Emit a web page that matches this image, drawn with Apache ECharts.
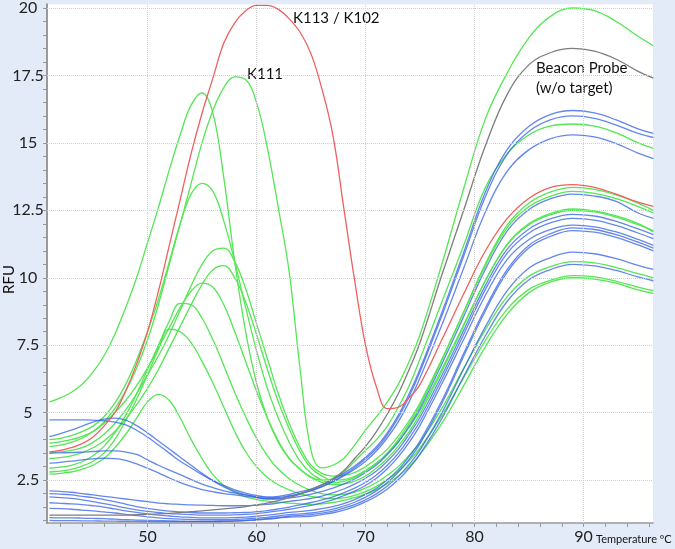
<!DOCTYPE html>
<html>
<head>
<meta charset="utf-8">
<title>Melt curves</title>
<style>
html,body{margin:0;padding:0;background:#e3ebf9;}
#chart{width:675px;height:549px;}
</style>
</head>
<body>
<div id="chart"></div>
<script src="https://cdn.jsdelivr.net/npm/echarts@6/dist/echarts.min.js"></script>
<script>
// temperature points (ºC): every degree up to 75, then every 2 degrees
var temps = [41,42,43,44,45,46,47,48,49,50,51,52,53,54,55,56,57,58,59,60,61,62,63,64,65,66,67,68,69,70,71,72,73,74,75,
             77,79,81,83,85,87,89,91,93,95,96.4];

// red: K113 / K102
var redK113 = [3.55,3.6,3.7,3.85,4.1,4.5,5.0,5.8,6.8,8.0,9.5,11.2,12.9,14.6,16.1,17.4,18.7,19.45,19.9,20.1,20.1,19.95,19.6,19.1,18.3,17.0,15.3,12.6,9.9,7.5,5.95,5.15,5.2,5.55,6.05,
               7.7,9.4,11.0,12.2,12.95,13.35,13.45,13.35,13.1,12.8,12.65];
// gray: beacon probe without target
var grayProbe = [1.2,1.2,1.2,1.2,1.2,1.2,1.2,1.2,1.22,1.23,1.25,1.27,1.3,1.33,1.36,1.4,1.43,1.47,1.52,1.58,1.65,1.74,1.85,1.98,2.15,2.33,2.55,2.85,3.3,3.75,4.3,4.95,5.7,6.6,7.6,
                 10.1,12.5,14.9,16.8,17.9,18.35,18.5,18.4,18.1,17.65,17.4];

// green curves
var gK111 = [3.74,3.8,3.9,4.05,4.3,4.65,5.15,5.8,6.65,7.7,9.0,10.5,12.0,13.5,15.0,16.2,17.05,17.45,17.35,16.5,14.8,12.6,10.2,6.6,3.6,2.95,3.05,3.3,3.8,4.35,4.85,5.4,6.05,6.9,7.9,
             10.5,13.3,15.9,17.6,18.9,19.7,20.0,19.9,19.5,18.95,18.6];
var gA = [5.4,5.55,5.75,6.05,6.5,7.1,7.9,8.9,10.0,11.3,12.6,14.0,15.3,16.4,16.85,16.1,13.7,10.6,8.0,6.1,4.8,3.9,3.3,2.9,2.6,2.5,2.55,2.8,3.2,3.6,4.0,4.5,5.2,6.0,7.0,
          9.1,11.2,13.35,14.6,15.3,15.63,15.7,15.62,15.37,15.0,14.8];
var gB = [4.0,4.05,4.15,4.3,4.5,4.85,5.35,6.05,6.95,8.0,9.2,10.6,12.0,13.1,13.5,13.2,12.1,10.6,8.9,7.3,5.9,4.8,3.9,3.2,2.75,2.5,2.4,2.45,2.6,2.85,3.13,3.5,4.0,4.6,5.27,
          6.94,8.73,10.52,11.96,12.77,13.18,13.35,13.28,13.07,12.77,12.5];
var gC = [3.5,3.55,3.6,3.7,3.9,4.2,4.6,5.1,5.7,6.4,7.1,7.9,8.8,9.7,10.5,11.0,11.1,10.6,9.6,8.3,7.0,5.7,4.6,3.7,3.05,2.75,2.65,2.68,2.78,3.0,3.29,3.65,4.13,4.7,5.36,
          6.98,8.72,10.46,11.86,12.64,13.03,13.2,13.13,12.93,12.64,12.4];
var gD = [3.3,3.33,3.4,3.52,3.7,3.95,4.3,4.75,5.3,5.9,6.6,7.4,8.2,9.0,9.75,10.3,10.45,10.0,9.1,7.9,6.6,5.4,4.4,3.55,2.95,2.65,2.5,2.52,2.64,2.85,3.12,3.48,3.91,4.45,5.08,
          6.62,8.26,9.9,11.23,11.97,12.34,12.5,12.44,12.25,11.97,11.75];
var gE = [3.87,3.92,4.0,4.12,4.3,4.6,5.0,5.45,6.0,6.65,7.4,8.15,8.9,9.5,9.8,9.65,9.0,8.0,6.9,5.8,4.8,3.95,3.3,2.9,2.6,2.42,2.33,2.35,2.46,2.65,2.95,3.3,3.76,4.3,4.96,
          6.53,8.21,9.89,11.25,12.01,12.39,12.55,12.48,12.29,12.01,11.7];
var gF = [2.94,2.98,3.05,3.18,3.4,3.75,4.25,4.9,5.7,6.6,7.5,8.4,9.05,9.0,8.5,7.7,6.75,5.75,4.85,4.05,3.4,2.9,2.55,2.3,2.12,2.0,1.95,1.97,2.05,2.2,2.41,2.68,3.0,3.42,3.9,
          5.16,6.64,8.08,9.3,10.06,10.42,10.6,10.55,10.38,10.15,10.0];
var gG = [2.8,2.83,2.9,3.02,3.2,3.5,4.0,4.7,5.5,6.4,7.35,8.1,8.0,7.6,6.9,6.1,5.2,4.3,3.55,3.0,2.6,2.33,2.14,2.0,1.9,1.84,1.81,1.84,1.93,2.07,2.27,2.52,2.83,3.22,3.69,
          4.89,6.3,7.68,8.84,9.57,9.91,10.08,10.03,9.87,9.65,9.52];
var gH = [2.72,2.75,2.8,2.9,3.05,3.3,3.7,4.2,4.8,5.4,5.68,5.45,4.8,4.0,3.3,2.7,2.3,2.05,1.88,1.78,1.72,1.68,1.65,1.62,1.6,1.62,1.67,1.75,1.85,1.98,2.15,2.37,2.65,3.0,3.45,
          4.6,6.0,7.45,8.65,9.45,9.85,10.0,9.95,9.8,9.55,9.42];

// blue curves
var bU1 = [4.73,4.73,4.73,4.73,4.72,4.7,4.65,4.55,4.35,4.1,3.8,3.5,3.2,2.95,2.7,2.48,2.3,2.14,2.02,1.93,1.88,1.9,1.97,2.07,2.17,2.32,2.52,2.75,3.02,3.35,3.74,4.25,4.9,5.7,6.62,
           8.71,10.94,13.18,14.76,15.62,16.06,16.2,16.11,15.85,15.52,15.35];
var bU2 = [4.11,4.22,4.35,4.5,4.65,4.76,4.8,4.72,4.52,4.25,3.95,3.65,3.35,3.05,2.75,2.48,2.25,2.08,1.95,1.86,1.81,1.82,1.9,2.0,2.12,2.27,2.46,2.69,2.96,3.29,3.67,4.18,4.81,5.6,6.52,
           8.59,10.8,13.01,14.58,15.43,15.86,16.0,15.91,15.66,15.35,15.2];
var bU3 = [3.5,3.51,3.52,3.54,3.56,3.58,3.58,3.54,3.45,3.25,3.05,2.87,2.7,2.52,2.35,2.22,2.1,2.02,1.95,1.89,1.85,1.86,1.92,2.0,2.1,2.25,2.43,2.65,2.9,3.2,3.58,4.07,4.66,5.4,6.29,
           8.25,10.35,12.45,13.95,14.75,15.16,15.3,15.22,14.97,14.62,14.42];
var bU4 = [3.13,3.16,3.2,3.25,3.29,3.31,3.3,3.23,3.1,2.94,2.77,2.58,2.41,2.27,2.15,2.07,2.0,1.95,1.9,1.85,1.8,1.8,1.84,1.9,1.98,2.08,2.2,2.36,2.54,2.78,3.06,3.45,3.91,4.5,5.16,
           6.8,8.56,10.32,11.74,12.53,12.93,13.1,13.03,12.83,12.4,12.2];
var bL1 = [2.1,2.08,2.05,2.0,1.95,1.9,1.85,1.8,1.75,1.7,1.65,1.62,1.6,1.58,1.57,1.56,1.55,1.55,1.55,1.57,1.6,1.65,1.71,1.76,1.82,1.91,2.03,2.17,2.35,2.57,2.84,3.2,3.64,4.2,4.83,
           6.38,8.05,9.72,11.06,11.81,12.19,12.35,12.29,12.09,11.81,11.6];
var bL2 = [2.0,1.98,1.95,1.9,1.85,1.78,1.7,1.61,1.52,1.45,1.4,1.35,1.32,1.3,1.28,1.28,1.28,1.29,1.3,1.33,1.37,1.43,1.5,1.58,1.67,1.77,1.88,2.03,2.2,2.42,2.69,3.05,3.49,4.05,4.68,
           6.23,7.9,9.57,10.91,11.66,12.04,12.2,12.14,11.94,11.66,11.45];
var bL3 = [1.88,1.85,1.82,1.77,1.7,1.63,1.55,1.47,1.4,1.34,1.3,1.26,1.24,1.22,1.2,1.2,1.2,1.21,1.23,1.26,1.3,1.36,1.42,1.49,1.56,1.66,1.77,1.92,2.09,2.3,2.57,2.92,3.36,3.9,4.53,
           6.07,7.71,9.35,10.68,11.42,11.79,11.95,11.89,11.7,11.42,11.2];
var bL4 = [1.66,1.64,1.62,1.59,1.55,1.5,1.43,1.36,1.3,1.25,1.2,1.17,1.14,1.12,1.1,1.1,1.1,1.11,1.13,1.16,1.2,1.25,1.3,1.34,1.38,1.44,1.52,1.63,1.78,1.97,2.2,2.51,2.89,3.38,3.95,
           5.44,7.19,8.88,10.31,11.21,11.64,11.85,11.79,11.6,11.32,11.1];
var bL5 = [1.45,1.44,1.42,1.39,1.36,1.32,1.28,1.23,1.18,1.14,1.1,1.07,1.05,1.04,1.03,1.03,1.03,1.04,1.06,1.09,1.12,1.17,1.22,1.25,1.28,1.34,1.42,1.54,1.68,1.87,2.1,2.41,2.79,3.27,3.85,
           5.34,7.09,8.78,10.21,11.11,11.54,11.75,11.69,11.5,11.22,11.0];
var bL6 = [1.11,1.1,1.1,1.09,1.08,1.07,1.05,1.03,1.02,1.01,1.0,0.99,0.98,0.97,0.97,0.97,0.98,0.99,1.01,1.04,1.07,1.11,1.16,1.19,1.22,1.28,1.35,1.46,1.59,1.77,1.99,2.28,2.63,3.08,3.61,
           4.99,6.62,8.19,9.52,10.36,10.75,10.95,10.89,10.71,10.46,10.31];
var bL7 = [1.01,1.0,1.0,0.99,0.99,0.98,0.98,0.97,0.97,0.96,0.96,0.96,0.96,0.96,0.96,0.96,0.97,0.98,1.0,1.02,1.05,1.09,1.13,1.14,1.16,1.22,1.29,1.39,1.52,1.69,1.9,2.17,2.51,2.94,3.46,
           4.78,6.34,7.85,9.13,9.93,10.31,10.5,10.44,10.27,10.03,9.89];

// axis ticks / labels
var xLabels = [50,60,70,80,90];
var yLabels = [2.5,5,7.5,10,12.5,15,17.5,20];

var greens = [gA, gB, gC, gD, gE, gF, gG, gH, gK111];
var blues = [bU1, bU2, bU3, bU4, bL1, bL2, bL3, bL4, bL5, bL6, bL7];

var xMinor = [];
for (var t = 42; t <= 96; t += 2) xMinor.push(t);
var yMinor = [];
for (var v = 1; v <= 20; v += 0.5) yMinor.push(v);

function curve(vals, color, width, z) {
    return {
        type: 'line',
        data: temps.map(function (t, i) { return [t, vals[i]]; }),
        smooth: 0.4,
        symbol: 'none',
        silent: true,
        z: z,
        lineStyle: { color: color, width: width }
    };
}

var series = [];
// dotted grid lines
series.push({
    type: 'line', data: [], z: 1, silent: true,
    markLine: {
        silent: true, symbol: 'none', animation: false,
        label: { show: false },
        lineStyle: { color: '#cfcfcf', type: 'dotted', width: 1 },
        data: yLabels.map(function (y) { return { yAxis: y }; })
            .concat(xLabels.map(function (x) { return { xAxis: x }; }))
    }
});
greens.forEach(function (g) { series.push(curve(g, '#55e655', 1.3, 2)); });
blues.forEach(function (b) { series.push(curve(b, 'rgba(50,95,230,0.75)', 1.3, 3)); });
series.push(curve(grayProbe, '#7d7d7d', 1.3, 4));
series.push(curve(redK113, '#f06060', 1.3, 5));

var font = 'Lato';
var option = {
    backgroundColor: '#e3ebf9',
    animation: false,
    grid: { left: 47, right: 22, top: 3, bottom: 26, show: true, backgroundColor: '#ffffff', borderWidth: 0 },
    xAxis: {
        type: 'value', min: 40.78, max: 96.37,
        axisLine: { show: true, lineStyle: { color: '#9a9a9a', width: 1.5 } },
        axisTick: { show: true, length: 4, customValues: xMinor, lineStyle: { color: '#9a9a9a' } },
        axisLabel: { customValues: xLabels, color: '#222', fontSize: 16, fontFamily: font, margin: 6 },
        splitLine: { show: false }
    },
    yAxis: {
        type: 'value', min: 0.91, max: 20.14,
        axisLine: { show: true, lineStyle: { color: '#9a9a9a', width: 2 } },
        axisTick: { show: true, length: 4, customValues: yMinor, lineStyle: { color: '#9a9a9a' } },
        axisLabel: { customValues: yLabels, color: '#222', fontSize: 16, fontFamily: font, align: 'center', margin: 19 },
        splitLine: { show: false }
    },
    graphic: [
        { type: 'text', left: 293, top: 11, style: { text: 'K113 / K102', fill: '#111', font: '15px Lato' } },
        { type: 'text', left: 247, top: 67, style: { text: 'K111', fill: '#111', font: '15px Lato' } },
        { type: 'text', left: 536, top: 61, style: { text: 'Beacon Probe', fill: '#111', font: '15px Lato' } },
        { type: 'text', left: 536, top: 81, style: { text: '(w/o target)', fill: '#111', font: '15px Lato' } },
        { type: 'text', left: 596, top: 534, style: { text: 'Temperature ºC', fill: '#111', font: '11px Lato' } },
        { type: 'text', left: 2, top: 265, rotation: Math.PI / 2, style: { text: 'RFU', fill: '#111', font: '15px Lato' } }
    ],
    series: series
};

var myChart = echarts.init(document.getElementById('chart'));
myChart.setOption(option);
</script>
</body>
</html>
